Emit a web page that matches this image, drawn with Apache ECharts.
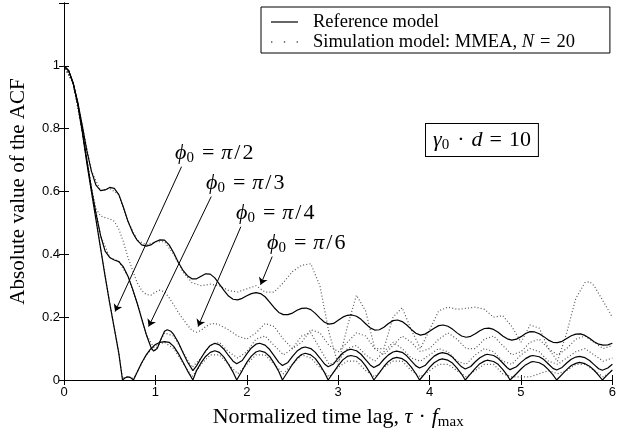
<!DOCTYPE html>
<html>
<head>
<meta charset="utf-8">
<script src="https://cdn.jsdelivr.net/npm/echarts@6/dist/echarts.min.js"></script>
<style>
html,body{margin:0;padding:0;background:#fff}
#main{width:619px;height:439px}
</style>
</head>
<body>
<div id="main"></div>
<script>
// x ticks / y ticks
var xTicks=[0,1,2,3,4,5,6]
var yTicks=[0,0.2,0.4,0.6,0.8,1]

// reference model, phi0 = pi/2
var refPi2=[[0,1],[0.05,0.985],[0.1,0.945],[0.15,0.88],[0.2,0.79],[0.25,0.69],[0.3,0.6],[0.35,0.51],[0.4,0.42],[0.45,0.33],[0.5,0.245],[0.55,0.165],[0.6,0.085],[0.64,0],[0.67,0.007],[0.7,0.01],[0.73,0.007],[0.76,0],
[0.8,0.025],[0.85,0.055],[0.9,0.08],[0.95,0.1],[1.0,0.113],[1.05,0.12],[1.1,0.122],[1.15,0.12],[1.2,0.107],[1.25,0.085],[1.3,0.058],[1.35,0.03],[1.41,0],
[1.45,0.03],[1.5,0.055],[1.55,0.075],[1.6,0.088],[1.65,0.093],[1.7,0.088],[1.75,0.073],[1.8,0.05],[1.85,0.025],[1.89,0],
[1.95,0.03],[2.0,0.056],[2.05,0.076],[2.1,0.089],[2.14,0.093],[2.2,0.088],[2.25,0.075],[2.3,0.053],[2.35,0.027],[2.39,0],
[2.45,0.027],[2.5,0.05],[2.55,0.069],[2.6,0.081],[2.64,0.085],[2.7,0.08],[2.75,0.068],[2.8,0.048],[2.85,0.024],[2.89,0],
[2.95,0.025],[3.0,0.046],[3.05,0.064],[3.1,0.075],[3.14,0.078],[3.2,0.074],[3.25,0.063],[3.3,0.045],[3.35,0.022],[3.39,0],
[3.45,0.023],[3.5,0.043],[3.55,0.059],[3.6,0.069],[3.64,0.072],[3.7,0.068],[3.75,0.058],[3.8,0.041],[3.85,0.02],[3.89,0],
[3.95,0.021],[4.0,0.04],[4.05,0.055],[4.1,0.064],[4.14,0.067],[4.2,0.063],[4.25,0.054],[4.3,0.038],[4.35,0.019],[4.39,0],
[4.45,0.02],[4.5,0.037],[4.55,0.052],[4.6,0.06],[4.63,0.063],[4.7,0.059],[4.75,0.05],[4.8,0.034],[4.85,0.015],[4.88,0],
[4.95,0.02],[5.0,0.035],[5.05,0.048],[5.1,0.056],[5.13,0.059],[5.2,0.055],[5.25,0.047],[5.3,0.033],[5.35,0.016],[5.39,0],
[5.45,0.018],[5.5,0.033],[5.55,0.046],[5.6,0.053],[5.64,0.056],[5.7,0.052],[5.75,0.044],[5.8,0.031],[5.85,0.015],[5.89,0],
[5.95,0.018],[6.0,0.032]]

// reference model, phi0 = pi/3
var refPi3=[[0,1],[0.05,0.985],[0.1,0.945],[0.15,0.88],[0.2,0.795],[0.25,0.7],[0.3,0.61],[0.35,0.53],[0.4,0.46],[0.45,0.41],[0.5,0.39],[0.55,0.382],[0.6,0.377],[0.65,0.36],[0.7,0.33],[0.75,0.29],[0.8,0.245],[0.85,0.195],[0.9,0.145],[0.95,0.105],[0.98,0.092],[1.02,0.1],[1.06,0.13],[1.1,0.155],[1.13,0.16],[1.17,0.155],[1.2,0.145],[1.25,0.12],[1.3,0.088],[1.35,0.058],[1.41,0.03],
[1.45,0.045],[1.5,0.07],[1.55,0.093],[1.6,0.11],[1.65,0.117],[1.7,0.112],[1.75,0.098],[1.8,0.078],[1.85,0.06],[1.89,0.052],
[1.95,0.062],[2.0,0.083],[2.05,0.102],[2.1,0.114],[2.14,0.117],[2.2,0.111],[2.25,0.097],[2.3,0.077],[2.35,0.056],[2.39,0.046],
[2.45,0.056],[2.5,0.075],[2.55,0.092],[2.6,0.102],[2.64,0.105],[2.7,0.1],[2.75,0.088],[2.8,0.07],[2.85,0.051],[2.89,0.042],
[2.95,0.051],[3.0,0.07],[3.05,0.086],[3.1,0.095],[3.14,0.098],[3.2,0.093],[3.25,0.082],[3.3,0.065],[3.35,0.048],[3.39,0.04],
[3.45,0.049],[3.5,0.066],[3.55,0.08],[3.6,0.089],[3.64,0.092],[3.7,0.088],[3.75,0.077],[3.8,0.061],[3.85,0.045],[3.89,0.038],
[3.95,0.046],[4.0,0.062],[4.05,0.076],[4.1,0.084],[4.14,0.087],[4.2,0.083],[4.25,0.073],[4.3,0.057],[4.35,0.042],[4.39,0.035],
[4.45,0.043],[4.5,0.058],[4.55,0.071],[4.6,0.079],[4.63,0.082],[4.7,0.078],[4.75,0.069],[4.8,0.054],[4.85,0.039],[4.88,0.033],
[4.95,0.042],[5.0,0.056],[5.05,0.068],[5.1,0.076],[5.13,0.078],[5.2,0.074],[5.25,0.065],[5.3,0.051],[5.35,0.037],[5.39,0.032],
[5.45,0.04],[5.5,0.054],[5.55,0.066],[5.6,0.073],[5.64,0.075],[5.7,0.071],[5.75,0.062],[5.8,0.049],[5.85,0.036],[5.89,0.031],
[5.95,0.038],[6.0,0.05]]

// reference model, phi0 = pi/6
var refPi6=[[0,1],[0.05,0.985],[0.1,0.945],[0.15,0.885],[0.2,0.81],[0.25,0.73],[0.3,0.665],[0.35,0.62],[0.4,0.603],[0.45,0.605],[0.5,0.613],[0.55,0.61],[0.6,0.59],[0.65,0.55],[0.7,0.505],[0.75,0.47],[0.8,0.445],[0.85,0.43],[0.9,0.426],[0.95,0.43],[1.0,0.44],[1.05,0.446],[1.1,0.445],[1.15,0.43],[1.2,0.405],[1.25,0.375],[1.3,0.35],[1.35,0.332],[1.4,0.322],[1.45,0.322],[1.5,0.33],[1.55,0.338],[1.6,0.337],[1.65,0.325],[1.7,0.305],[1.75,0.285],[1.8,0.267],[1.85,0.257],[1.9,0.255],[1.95,0.26],[2.0,0.268],[2.05,0.275],[2.1,0.278],[2.15,0.275],[2.2,0.265],[2.25,0.248],[2.3,0.23],[2.35,0.215],[2.4,0.208],[2.45,0.208],[2.5,0.213],[2.55,0.222],[2.6,0.228],[2.65,0.229],[2.7,0.224],[2.75,0.212],[2.8,0.197],[2.85,0.184],[2.9,0.178],[2.95,0.18],
[3.0,0.19],[3.05,0.2],[3.1,0.206],[3.15,0.207],[3.2,0.203],[3.25,0.193],[3.3,0.179],[3.35,0.166],[3.4,0.159],[3.45,0.16],[3.5,0.168],[3.55,0.18],[3.6,0.189],[3.65,0.191],[3.7,0.186],[3.75,0.175],[3.8,0.161],[3.85,0.149],[3.9,0.143],[3.95,0.146],[4.0,0.155],[4.05,0.165],[4.1,0.173],[4.15,0.175],[4.2,0.171],[4.25,0.162],[4.3,0.15],[4.35,0.14],[4.4,0.136],[4.45,0.139],[4.5,0.147],[4.55,0.157],[4.6,0.164],[4.65,0.165],[4.7,0.161],[4.75,0.152],[4.8,0.14],[4.85,0.131],[4.9,0.127],[4.95,0.13],[5.0,0.138],[5.05,0.148],[5.1,0.154],[5.15,0.153],[5.2,0.147],[5.25,0.138],[5.3,0.127],[5.35,0.12],[5.4,0.119],[5.45,0.123],[5.5,0.132],[5.55,0.141],[5.6,0.146],[5.65,0.147],[5.7,0.142],[5.75,0.133],[5.8,0.122],[5.85,0.114],[5.9,0.111],[5.95,0.112],[6.0,0.117]]

// simulation model (MMEA, N=20)
var simA=[[0,1],[0.1,0.945],[0.2,0.8],[0.25,0.7],[0.3,0.61],[0.35,0.545],[0.4,0.522],[0.45,0.517],[0.5,0.513],[0.55,0.505],[0.6,0.48],[0.65,0.44],[0.7,0.39],[0.75,0.35],[0.8,0.31],[0.85,0.285],[0.9,0.272],[0.95,0.27],[1.0,0.28],[1.05,0.286],[1.1,0.28],[1.15,0.262],[1.2,0.24],[1.25,0.215],[1.3,0.195],[1.35,0.175],[1.4,0.158],[1.45,0.152],[1.5,0.158],[1.55,0.17],[1.6,0.178],[1.65,0.18],[1.7,0.175],[1.8,0.16],[1.9,0.14],[2.0,0.13],[2.1,0.15],[2.2,0.18],[2.3,0.17],[2.4,0.13],[2.5,0.1],[2.6,0.12],[2.7,0.16],[2.8,0.15],[2.9,0.11],[3.0,0.09],[3.1,0.12],[3.2,0.15],[3.3,0.14],[3.4,0.1],[3.5,0.08],[3.6,0.11],[3.7,0.14],[3.8,0.12],[3.9,0.09],[4.0,0.1],[4.1,0.13],[4.2,0.15],[4.3,0.13],[4.4,0.1],[4.5,0.1],[4.6,0.13],[4.7,0.14],[4.8,0.11],[4.9,0.08],[5.0,0.09],[5.1,0.12],[5.2,0.13],[5.3,0.1],[5.4,0.08],[5.5,0.1],[5.6,0.13],[5.7,0.14],[5.8,0.12],[5.9,0.1],[6.0,0.11]]
var simB=[[0,1],[0.1,0.945],[0.2,0.81],[0.3,0.665],[0.4,0.603],[0.5,0.61],[0.6,0.59],[0.7,0.505],[0.8,0.445],[0.9,0.43],[1.0,0.44],[1.1,0.44],[1.2,0.4],[1.3,0.345],[1.4,0.31],[1.5,0.3],[1.6,0.305],[1.7,0.3],[1.8,0.285],[1.9,0.28],[2.0,0.29],[2.1,0.3],[2.2,0.28],[2.3,0.28],[2.4,0.31],[2.5,0.345],[2.6,0.365],[2.7,0.37],[2.8,0.3],[2.9,0.15],[3.0,0.05],[3.1,0.17],[3.2,0.27],[3.3,0.22],[3.4,0.1],[3.5,0.1],[3.6,0.2],[3.7,0.23],[3.8,0.16],[3.9,0.1],[4.0,0.16],[4.1,0.22],[4.2,0.232],[4.3,0.225],[4.4,0.228],[4.5,0.232],[4.6,0.225],[4.7,0.2],[4.8,0.205],[4.9,0.17],[5.0,0.12],[5.1,0.175],[5.2,0.165],[5.3,0.1],[5.4,0.06],[5.5,0.15],[5.6,0.26],[5.7,0.31],[5.75,0.313],[5.8,0.3],[5.9,0.25],[6.0,0.2]]
var simC=[[0,1],[0.1,0.945],[0.2,0.795],[0.3,0.61],[0.4,0.46],[0.5,0.39],[0.6,0.377],[0.7,0.33],[0.8,0.245],[0.9,0.145],[1.0,0.095],[1.1,0.15],[1.2,0.14],[1.3,0.09],[1.4,0.04],[1.5,0.07],[1.6,0.11],[1.7,0.12],[1.8,0.09],[1.9,0.07],[2.0,0.09],[2.1,0.13],[2.2,0.14],[2.3,0.11],[2.4,0.08],[2.5,0.1],[2.6,0.14],[2.7,0.15],[2.8,0.1],[2.9,0.05],[3.0,0.06],[3.1,0.1],[3.2,0.11],[3.3,0.08],[3.4,0.06],[3.5,0.09],[3.6,0.12],[3.7,0.1],[3.8,0.07],[3.9,0.06],[4.0,0.08],[4.1,0.1],[4.2,0.09],[4.3,0.06],[4.4,0.05],[4.5,0.08],[4.6,0.1],[4.7,0.09],[4.8,0.06],[4.9,0.05],[5.0,0.08],[5.1,0.1],[5.2,0.09],[5.3,0.06],[5.4,0.05],[5.5,0.07],[5.6,0.09],[5.7,0.1],[5.8,0.08],[5.9,0.06],[6.0,0.07]]
var simD=[[0,1],[0.1,0.945],[0.2,0.79],[0.3,0.6],[0.4,0.42],[0.5,0.245],[0.6,0.085],[0.64,0.005],[0.7,0.012],[0.76,0.005],[0.8,0.025],[0.9,0.08],[1.0,0.11],[1.1,0.12],[1.2,0.1],[1.3,0.055],[1.4,0.01],[1.5,0.05],[1.6,0.08],[1.7,0.08],[1.8,0.05],[1.9,0.02],[2.0,0.05],[2.1,0.08],[2.2,0.08],[2.3,0.05],[2.4,0.02],[2.5,0.05],[2.6,0.08],[2.7,0.07],[2.8,0.04],[2.9,0.01],[3.0,0.04],[3.1,0.06],[3.2,0.06],[3.3,0.03],[3.4,0.01],[3.5,0.04],[3.6,0.06],[3.7,0.06],[3.8,0.03],[3.9,0.01],[4.0,0.03],[4.1,0.05],[4.2,0.05],[4.3,0.03],[4.4,0.01],[4.5,0.03],[4.6,0.05],[4.7,0.05],[4.8,0.02],[4.9,0.01],[5.0,0.01],[5.1,0.01],[5.2,0.02],[5.3,0.03],[5.4,0.02],[5.5,0.03],[5.6,0.05],[5.7,0.05],[5.8,0.03],[5.9,0.01],[6.0,0.03]]

// annotation arrows [from, to] in data units
var arrowPi2=[[1.286,0.679],[0.559,0.218]]
var arrowPi3=[[1.611,0.584],[0.926,0.17]]
var arrowPi4=[[1.935,0.488],[1.467,0.17]]
var arrowPi6=[[2.278,0.393],[2.151,0.303]]

var refName='Reference model'
var simName='Simulation model: MMEA, N = 20'

// tiny helpers in place of jQuery
function $each(arr,fn){for(var i=0;i<arr.length;i++)fn(arr[i],i)}
function merge(a,b){
    var o={},k
    for(k in a)o[k]=a[k]
    for(k in b)o[k]=b[k]
    return o
}

function drawChar(){
    var myChart=echarts.init(document.getElementById('main'))
    var serif='Liberation Serif, DejaVu Serif, serif'
    var sans='Liberation Sans, Arial, sans-serif'
    var series=[]
    $each([simA,simB,simC,simD],function(d){
        series.push({name:simName,type:'line',data:d,symbol:'none',z:2,
            lineStyle:{color:'#555',width:1.2,type:[1,2.2]},itemStyle:{color:'#555'}})
    })
    $each([refPi2,refPi3,refPi6],function(d){
        series.push({name:refName,type:'line',data:d,symbol:'none',z:3,
            lineStyle:{color:'#000',width:1.2},itemStyle:{color:'#000'}})
    })
    series.push({type:'lines',coordinateSystem:'cartesian2d',z:4,
        symbol:['none','arrow'],symbolSize:[0,7],
        lineStyle:{color:'#000',width:1,opacity:1},
        data:[{coords:arrowPi2},{coords:arrowPi3},{coords:arrowPi4},{coords:arrowPi6}]})

    var tickStyle={show:true,inside:true,length:5,lineStyle:{color:'#000'}}
    var lineStyle={show:true,lineStyle:{color:'#000',width:1}}
    var xBase={type:'value',min:0,max:6,interval:1,axisLine:lineStyle,axisTick:tickStyle,splitLine:{show:false}}
    var yBase={type:'value',min:0,max:1.2,interval:0.2,axisLine:lineStyle,axisTick:tickStyle,splitLine:{show:false}}

    var fs=22
    var rich={
        it:{fontFamily:serif,fontStyle:'italic',fontSize:fs,color:'#000'},
        n:{fontFamily:serif,fontSize:fs,color:'#000'},
        op:{fontFamily:serif,fontSize:fs,color:'#000',padding:[0,7,0,7]},
        sl:{fontFamily:serif,fontSize:fs,color:'#000',padding:[0,2,0,2]},
        sub:{fontFamily:serif,fontSize:15,color:'#000',verticalAlign:'bottom',padding:[10,1,0,0]}
    }
    var xRich={
        it:{fontFamily:serif,fontStyle:'italic',fontSize:22,color:'#000'},
        n:{fontFamily:serif,fontSize:22,color:'#000'},
        op:{fontFamily:serif,fontSize:22,color:'#000',padding:[0,6,0,6]},
        sub:{fontFamily:serif,fontSize:15,color:'#000',verticalAlign:'bottom',padding:[10,0,0,0]}
    }
    function phiLabel(x,y,den){
        return {type:'text',left:x,top:y,z:10,style:{
            text:'{it|ϕ}{sub|0}{op|=}{it|π}{sl|/}{n|'+den+'}',rich:rich}}
    }
    var lg={fontFamily:serif,fontSize:18.5,color:'#000',lineHeight:20}

    var option={
        animation:false,
        grid:{left:61,right:3,top:3,bottom:59},
        legend:{orient:'vertical',left:261,top:7,
            data:[{name:refName,icon:'path://M0,0H27V1.2H0Z'},
                {name:simName,icon:'path://M0,0h1.3v1.3h-1.3z M12,0h1.3v1.3h-1.3z M24,0h1.3v1.3h-1.3z'}],
            itemWidth:27,itemHeight:14,itemGap:0,padding:[5,35,1,10],
            borderColor:'#000',borderWidth:1,backgroundColor:'#fff',
            textStyle:merge(lg,{padding:[0,0,0,10],
                rich:{r:lg,i:merge(lg,{fontStyle:'italic'}),e:merge(lg,{padding:[0,6,0,6]})}}),
            formatter:function(name){
                if(name==simName) return '{r|Simulation model: MMEA, }{i|N}{e|=}{r|20}'
                return '{r|'+name+'}'
            }},
        xAxis:[
            merge(xBase,{position:'bottom',
                axisLabel:{fontFamily:sans,fontSize:13,color:'#000',margin:6},
                name:'{n|Normalized time lag, }{it|τ}{op|·}{it|f}{sub|max}',nameLocation:'middle',nameGap:25,
                nameTextStyle:{rich:xRich}}),
            merge(xBase,{position:'top',axisLabel:{show:false}})
        ],
        yAxis:[
            merge(yBase,{position:'left',
                axisLabel:{fontFamily:sans,fontSize:13,color:'#000',margin:4,
                    formatter:function(v){return v>1.05?'':String(+v.toFixed(1))}},
                name:'Absolute value of the ACF',nameLocation:'middle',nameGap:35,
                nameTextStyle:{fontFamily:serif,fontSize:21,color:'#000'}}),
            merge(yBase,{position:'right',axisLabel:{show:false}})
        ],
        graphic:[
            phiLabel(175,142,2),
            phiLabel(206,172,3),
            phiLabel(236,202,4),
            phiLabel(267,232,6),
            {type:'text',left:425,top:123,z:10,style:{
                text:'{it|γ}{sub|0}{op|·}{it|d}{op|=}{n|10}',rich:rich,
                borderColor:'#000',borderWidth:1,padding:[4,7,3,7],backgroundColor:'#fff'}}
        ],
        series:series
    }
    myChart.setOption(option)
}

drawChar()
</script>
</body>
</html>
